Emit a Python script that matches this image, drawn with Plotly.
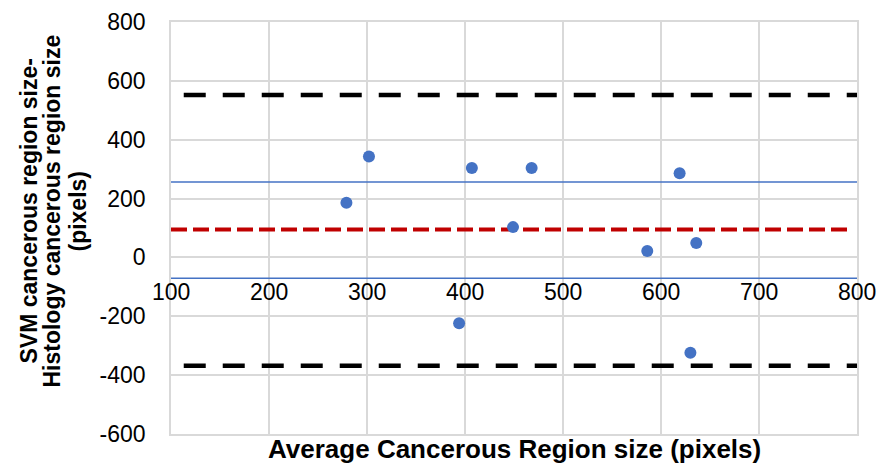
import plotly.graph_objects as go

# Data
avg_size = [279, 302, 394, 407, 449, 468, 586, 619, 630, 636]
diff_size = [186, 343, -224, 304, 103, 304, 22, 286, -324, 49]

mean_diff = 95
upper_loa = 552
lower_loa = -368
ci_upper = 256
ci_lower = -71

loa_x = [113, 800]
mean_x = [100, 793]
ci_x = [100, 800]

x_ticks = [100, 200, 300, 400, 500, 600, 700, 800]
x_tick_labels = ["100", "200", "300", "400", "500", "600", "700", "800"]
y_ticks = [-600, -400, -200, 0, 200, 400, 600, 800]
y_tick_labels = ["-600", "-400", "-200", "0", "200", "400", "600", "800"]

x_title = "Average Cancerous Region size (pixels)"
y_title_lines = ["SVM cancerous region size-", "Histology cancerous region size", "(pixels)"]

FONT = "Liberation Sans, Arial, sans-serif"
BLUE = "#4472C4"

fig = go.Figure()

fig.add_trace(go.Scatter(x=ci_x, y=[ci_upper, ci_upper], mode="lines",
                         line=dict(color=BLUE, width=1.5), hoverinfo="skip"))
fig.add_trace(go.Scatter(x=ci_x, y=[ci_lower, ci_lower], mode="lines",
                         line=dict(color=BLUE, width=1.5), hoverinfo="skip"))
fig.add_trace(go.Scatter(x=loa_x, y=[upper_loa, upper_loa], mode="lines",
                         line=dict(color="black", width=4.5, dash="22px,17px")))
fig.add_trace(go.Scatter(x=loa_x, y=[lower_loa, lower_loa], mode="lines",
                         line=dict(color="black", width=4.5, dash="22px,17px")))
fig.add_trace(go.Scatter(x=mean_x, y=[mean_diff, mean_diff], mode="lines",
                         line=dict(color="#C00000", width=4, dash="16px,6px")))
fig.add_trace(go.Scatter(x=avg_size, y=diff_size, mode="markers",
                         marker=dict(color=BLUE, size=12)))

for xv, lab in zip(x_ticks, x_tick_labels):
    fig.add_annotation(x=xv, y=0, xref="x", yref="y", text=lab, showarrow=False,
                       yanchor="top", yshift=-20,
                       font=dict(family=FONT, size=23, color="black"))

# x-axis title
fig.add_annotation(x=0.5, y=0, xref="paper", yref="paper", text="<b>%s</b>" % x_title,
                   showarrow=False, yanchor="middle", yshift=-15,
                   font=dict(family=FONT, size=26, color="black"))

# y-axis title (three lines)
for shift, line in zip([-142, -119, -93], y_title_lines):
    fig.add_annotation(x=0, y=0.54, xref="paper", yref="paper", text="<b>%s</b>" % line,
                       showarrow=False, textangle=-90, xanchor="center", yanchor="middle",
                       xshift=shift, font=dict(family=FONT, size=23, color="black"))

fig.update_layout(
    width=879, height=463,
    margin=dict(l=163, r=30, t=14, b=37),
    paper_bgcolor="white", plot_bgcolor="white",
    showlegend=False,
    font=dict(family=FONT, color="black"),
    xaxis=dict(range=[100, 800], tickvals=x_ticks, showticklabels=False,
               showgrid=True, gridcolor="#D9D9D9", gridwidth=1.5,
               zeroline=False, showline=True, linecolor="#D9D9D9", linewidth=1.5,
               mirror=True, automargin=False),
    yaxis=dict(range=[-600, 800], tickvals=y_ticks, ticktext=y_tick_labels,
               tickfont=dict(family=FONT, size=23, color="black"),
               ticklabelstandoff=19, automargin=False,
               showgrid=True, gridcolor="#D9D9D9", gridwidth=1.5,
               zeroline=False, showline=True, linecolor="#D9D9D9", linewidth=1.5,
               mirror=True),
)

fig.write_html("out.html")
